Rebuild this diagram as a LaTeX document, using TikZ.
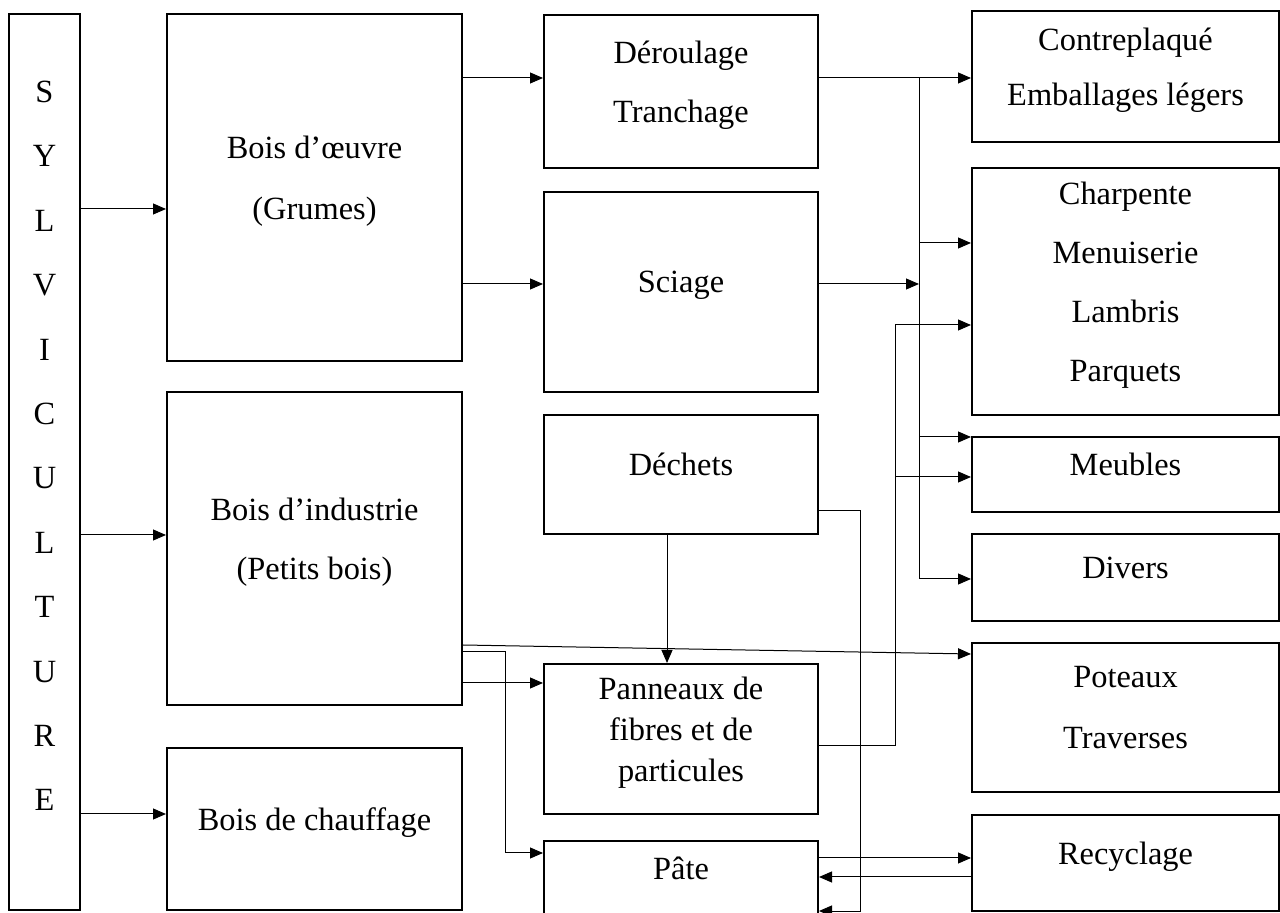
\documentclass[tikz,border=0pt]{standalone}
\usepackage{fontspec}
\setmainfont{Liberation Serif}
\usetikzlibrary{arrows.meta}
\newcommand{\lift}[1]{\rule[-#1]{0pt}{#1}}

\begin{document}
\begin{tikzpicture}[x=0.5pt,y=-0.5pt,
    box/.style={draw, line width=1pt, align=center, inner sep=0pt,
      font=\fontsize{16.2}{29.5}\selectfont},
    arr/.style={line width=0.5pt, -{Triangle[length=6.5pt,width=5.5pt]}}]
  \useasboundingbox (0,0) rectangle (1280,913);
  \clip (0,0) rectangle (1280,913);

  \node[box, minimum width=35.5pt, minimum height=448pt,
    font=\fontsize{16.2}{32.2}\selectfont] (sylv) at (44.5,462)
    {S\\Y\\L\\V\\I\\C\\U\\L\\T\\U\\R\\E\lift{16pt}};

  \node[box, minimum width=147.5pt, minimum height=173.5pt,
    font=\fontsize{16.2}{30.5}\selectfont] (oeuvre) at (314.5,187.5)
    {Bois d’œuvre\\(Grumes)\lift{10pt}};
  \node[box, minimum width=147.5pt, minimum height=156.5pt] (industrie) at (314.5,548.5)
    {Bois d’industrie\\(Petits bois)\lift{10pt}};
  \node[box, minimum width=147.5pt, minimum height=81pt] (chauffage) at (314.5,829)
    {Bois de chauffage\lift{10pt}};

  \node[box, minimum width=137pt, minimum height=76.5pt] (deroul) at (681,91.5)
    {Déroulage\\Tranchage\lift{10pt}};
  \node[box, minimum width=137pt, minimum height=100pt] (sciage) at (681,292)
    {Sciage\lift{10pt}};
  \node[box, minimum width=137pt, minimum height=59.5pt] (dechets) at (681,474.5)
    {Déchets\lift{10pt}};
  \node[box, minimum width=137pt, minimum height=75pt,
    font=\fontsize{16.2}{20.5}\selectfont] (panneaux) at (681,739)
    {Panneaux de\\fibres et de\\particules\lift{10pt}};
  \node[box, minimum width=137pt, minimum height=74.5pt] (pate) at (681,915.5)
    {Pâte\lift{47pt}};

  \node[box, minimum width=153.5pt, minimum height=65.5pt,
    font=\fontsize{16.2}{27.5}\selectfont] (contre) at (1125.5,76.5)
    {Contreplaqué\\Emballages légers\lift{10pt}};
  \node[box, minimum width=153.5pt, minimum height=123.5pt] (charp) at (1125.5,291.5)
    {Charpente\\Menuiserie\\Lambris\\Parquets\lift{10pt}};
  \node[box, minimum width=153.5pt, minimum height=37.5pt] (meubles) at (1125.5,474.5)
    {Meubles\lift{10pt}};
  \node[box, minimum width=153.5pt, minimum height=43.5pt] (divers) at (1125.5,577.5)
    {Divers\lift{10pt}};
  \node[box, minimum width=153.5pt, minimum height=74.5pt,
    font=\fontsize{16.2}{30.5}\selectfont] (poteaux) at (1125.5,717.5)
    {Poteaux\\Traverses\lift{10pt}};
  \node[box, minimum width=153.5pt, minimum height=48pt] (recycl) at (1125.5,863)
    {Recyclage\lift{10pt}};

  \coordinate (bus) at (919,0);
  \coordinate (busb) at (895,0);

  \draw[arr] (sylv.east |- 0,209) -- (oeuvre.west |- 0,209);
  \draw[arr] (sylv.east |- 0,535) -- (industrie.west |- 0,535);
  \draw[arr] (sylv.east |- 0,814) -- (chauffage.west |- 0,814);

  \draw[arr] (oeuvre.east |- 0,78) -- (deroul.west |- 0,78);
  \draw[arr] (oeuvre.east |- 0,284) -- (sciage.west |- 0,284);
  \draw[arr] (industrie.east |- 0,645) -- (poteaux.west |- 0,654);
  \draw[arr] (industrie.east |- 0,652) -| (505,853) -- (pate.west |- 0,853);
  \draw[arr] (industrie.east |- 0,683) -- (panneaux.west |- 0,683);

  \draw[arr] (dechets.south -| 667,0) -- (panneaux.north -| 667,0);
  \draw[arr] (dechets.east |- 0,511) -| (860,911) -- (pate.east |- 0,911);

  \draw[arr] (deroul.east |- 0,78) -- (contre.west |- 0,78);
  \draw[arr] (bus |- 0,78) |- (divers.west |- 0,579);
  \draw[arr] (bus |- 0,243) -- (charp.west |- 0,243);
  \draw[arr] (bus |- 0,437) -- (meubles.west |- 0,437);
  \draw[arr] (sciage.east |- 0,284) -- (bus |- 0,284);

  \draw[arr] (panneaux.east |- 0,746) -- (busb |- 0,746) |- (charp.west |- 0,325);
  \draw[arr] (busb |- 0,477) -- (meubles.west |- 0,477);

  \draw[arr] (pate.east |- 0,858) -- (recycl.west |- 0,858);
  \draw[arr] (recycl.west |- 0,877) -- (pate.east |- 0,877);
\end{tikzpicture}
\end{document}
